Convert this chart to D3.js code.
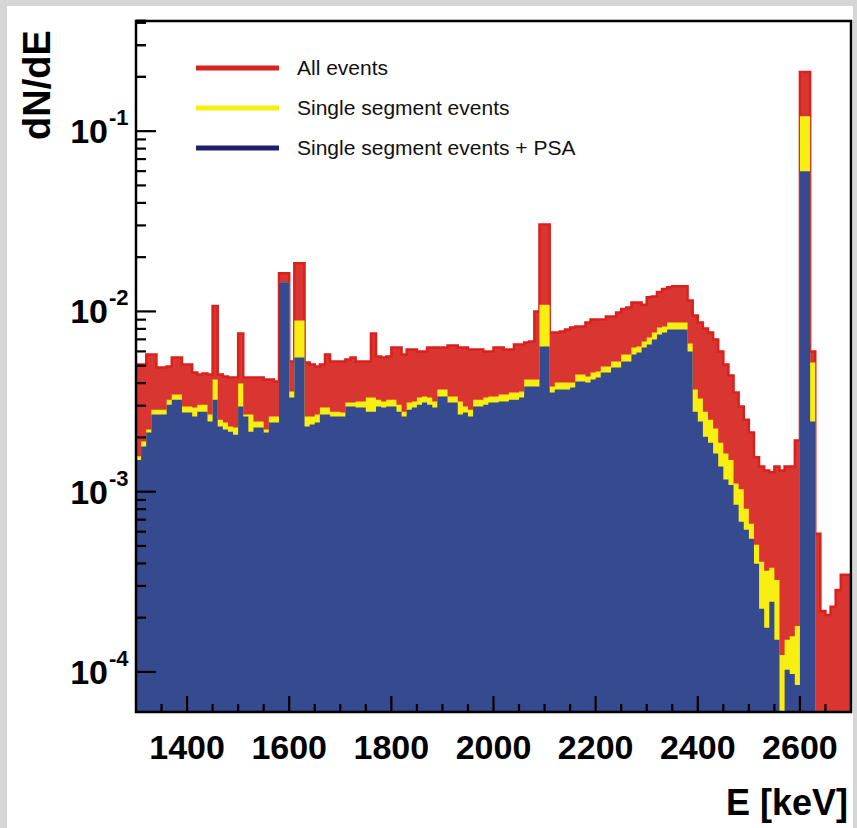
<!DOCTYPE html>
<html><head><meta charset="utf-8">
<script src="https://cdn.jsdelivr.net/npm/d3@7"></script>
<style>html,body{margin:0;padding:0;background:#d6d6d6;}svg{display:block;}</style>
</head><body>
<svg id="c" width="857" height="828"></svg>
<script>
const binStart = 1300, binWidth = 10;
const allEvents = [
.00508,.00508,.00577,.00577,.00489,.00489,.00495,.00555,.00555,.00508,
.00508,.00458,.00447,.00452,.00447,.0107,.00447,.00435,.0043,.0043,
.00754,.0043,.0043,.0043,.0043,.00419,.00419,.00408,.0163,.0163,
.00528,.0185,.0185,.00521,.00508,.00495,.00508,.00577,.00528,.00528,
.00528,.00541,.00555,.00528,.00528,.00528,.00754,.00562,.00555,.00562,
.00631,.00631,.00577,.00615,.00615,.00599,.00599,.00631,.00631,.00631,
.00631,.00648,.00648,.00631,.00631,.00615,.00615,.00615,.00599,.00599,
.00631,.00631,.00615,.00615,.00656,.00656,.00673,.00681,.0100,.0304,
.0304,.00764,.00764,.00774,.00794,.00815,.00825,.00825,.00869,.00903,
.00903,.00903,.00938,.00938,.00987,.0103,.0105,.0112,.0112,.0109,
.0120,.0121,.0128,.0133,.0136,.0138,.0138,.0138,.0115,.0095,
.00869,.00804,.00764,.00699,.00599,.00508,.00441,.00355,.00297,.00251,
.00213,.00155,.00138,.00131,.00128,.00138,.00131,.00138,.00138,.00192,
.213,.213,.00599,.000584,.000218,.000207,.00023,.000285,.000346,.000346];
const singleSegment = [
.00157,.0019,.00221,.00285,.00285,.00285,.00324,.00346,.00346,.00297,
.00297,.00293,.00304,.00304,.00268,.00419,.00251,.00242,.0023,.00227,
.00398,.00268,.00268,.00245,.00245,.00221,.00261,.00261,.0145,.0145,
.00359,.00891,.00891,.00261,.00261,.00268,.00293,.00293,.00278,.00278,
.00275,.00312,.00312,.00316,.00316,.00333,.00333,.00324,.00316,.00324,
.00324,.00304,.00278,.00312,.00316,.00333,.00337,.00333,.00316,.00369,
.00369,.00337,.00337,.00316,.00297,.00285,.00324,.00324,.00333,.00337,
.00337,.00346,.00346,.00355,.00355,.00359,.00419,.00419,.00419,.0109,
.0109,.00383,.00403,.00403,.00403,.00403,.00447,.00447,.00435,.00458,
.00464,.00495,.00495,.00528,.00528,.00577,.00577,.00631,.00639,.00681,
.00717,.00764,.00815,.00825,.00869,.00869,.00869,.00869,.00664,.00369,
.00329,.00278,.00251,.00224,.00187,.00163,.0015,.00111,.00103,.000804,
.000664,.000508,.000408,.000364,.000378,.000324,.000124,.000151,.000158,.00018,
.121,.121,.00521,1e-5,1e-5,1e-5,1e-5,1e-5,1e-5,1e-5];
const singlePSA = [
.0015,.00178,.00213,.00268,.00268,.00268,.00304,.00324,.00324,.00275,
.00275,.00261,.00278,.00278,.00245,.00324,.0023,.00221,.00215,.00207,
.00297,.00261,.00215,.00227,.00227,.00213,.00242,.00242,.0145,.0145,
.00333,.00555,.00555,.0023,.00236,.00242,.00268,.00268,.00261,.00261,
.00261,.00297,.00297,.00293,.00293,.00278,.00278,.00297,.00293,.00297,
.00297,.00278,.00261,.00285,.00293,.00304,.00312,.00304,.00293,.00337,
.00337,.00312,.00312,.00268,.00275,.00261,.00297,.00297,.00304,.00312,
.00312,.00316,.00316,.00324,.00324,.00333,.00383,.00383,.00383,.00639,
.00639,.00355,.00369,.00369,.00369,.00378,.00408,.00408,.00403,.00419,
.0043,.00458,.00458,.00489,.00489,.00528,.00528,.00577,.00592,.00631,
.00656,.00699,.00745,.00764,.00794,.00794,.00794,.00794,.00599,.00278,
.00245,.00202,.00187,.00163,.00138,.00117,.00109,.000847,.000681,.000615,
.000548,.000398,.000224,.000176,.000245,.000151,1e-5,.000103,.0000975,.0000847,
.0599,.0599,.00245,1e-5,1e-5,1e-5,1e-5,1e-5,1e-5,1e-5];
const seriesNames = ["All events","Single segment events","Single segment events + PSA"];
const xTicks = [1400,1600,1800,2000,2200,2400,2600];
const yDecades = [-4,-3,-2,-1];

const svg = d3.select("#c");
svg.append("rect").attr("x",7).attr("y",6).attr("width",846).attr("height",822).attr("fill","#fff");
const L=136,R=851,T=21,B=712;
const x = d3.scaleLinear().domain([1300,2700]).range([L,R]);
const y = d3.scaleLog().domain([Math.pow(10,-4.2222),Math.pow(10,-0.3889)]).range([B,T]).clamp(true);

function stepData(arr){
  const pts = arr.map((v,i)=>({e:binStart+i*binWidth,v}));
  pts.push({e:binStart+arr.length*binWidth,v:arr[arr.length-1]});
  return pts;
}
const area = d3.area().curve(d3.curveStepAfter).x(d=>x(d.e)).y0(B).y1(d=>y(d.v));
const line = d3.line().curve(d3.curveStepAfter).x(d=>x(d.e)).y(d=>y(d.v));
const g = svg.append("g");
g.append("path").attr("d",area(stepData(allEvents))).attr("fill","#d93631");
g.append("path").attr("d",line(stepData(allEvents))).attr("fill","none").attr("stroke","#d9211d").attr("stroke-width",2.5);
g.append("path").attr("d",area(stepData(singleSegment))).attr("fill","#f8ef12");
g.append("path").attr("d",area(stepData(singlePSA))).attr("fill","#364a8f");

// frame
svg.append("rect").attr("x",L).attr("y",T).attr("width",R-L).attr("height",B-T)
  .attr("fill","none").attr("stroke","#000").attr("stroke-width",2.5);

// y ticks
const ax = svg.append("g").attr("stroke","#000");
yDecades.forEach(d=>{
  for(let m=1;m<10;m++){
    const v=m*Math.pow(10,d); const yy=y(v);
    if(yy<T||yy>B) continue;
    ax.append("line").attr("x1",L).attr("x2",L+(m===1?20:10)).attr("y1",yy).attr("y2",yy).attr("stroke-width",2.2);
  }
});
for(let m=2;m<=4;m++){const yy=y(m*0.1); ax.append("line").attr("x1",L).attr("x2",L+10).attr("y1",yy).attr("y2",yy).attr("stroke-width",2.2);}
// x ticks
for(let e=1350;e<2700;e+=50){
  const major = e%200===0;
  ax.append("line").attr("x1",x(e)).attr("x2",x(e)).attr("y1",B).attr("y2",B-(major?16:8)).attr("stroke-width",2.2);
}
const F = "'Liberation Sans Narrow','Liberation Sans',Arial,sans-serif";
const yl = svg.append("g").attr("font-family",F).attr("font-weight","bold").attr("fill","#000");
yDecades.forEach(d=>{
  const t = yl.append("text").attr("x",108).attr("y",y(Math.pow(10,d))+12).attr("text-anchor","end").attr("font-size",34);
  t.append("tspan").text("10");
  const s = yl.append("text").attr("x",109).attr("y",y(Math.pow(10,d))-6).attr("font-size",22).text(String(d));
});
xTicks.forEach(e=>{
  yl.append("text").attr("x",x(e)).attr("y",759).attr("text-anchor","middle").attr("font-size",34).text(e);
});
yl.append("text").attr("x",848).attr("y",815).attr("text-anchor","end").attr("font-family","'Liberation Sans',Arial,sans-serif").attr("font-size",36).text("E [keV]");
yl.append("text").attr("transform","translate(50,85) rotate(-90)").attr("text-anchor","middle").attr("font-family","'Liberation Sans',Arial,sans-serif").attr("font-size",38).text("dN/dE");

// legend
const legColors=["#d9211d","#f8ef12","#1f1f6e"];
seriesNames.forEach((n,i)=>{
  const yy=68+i*40;
  svg.append("line").attr("x1",196).attr("x2",279).attr("y1",yy).attr("y2",yy).attr("stroke",legColors[i]).attr("stroke-width",5);
  svg.append("text").attr("x",297).attr("y",yy+7).attr("font-family","'Liberation Sans',Arial,sans-serif").attr("font-size",21).attr("fill","#111").text(n);
});
</script>
</body></html>
